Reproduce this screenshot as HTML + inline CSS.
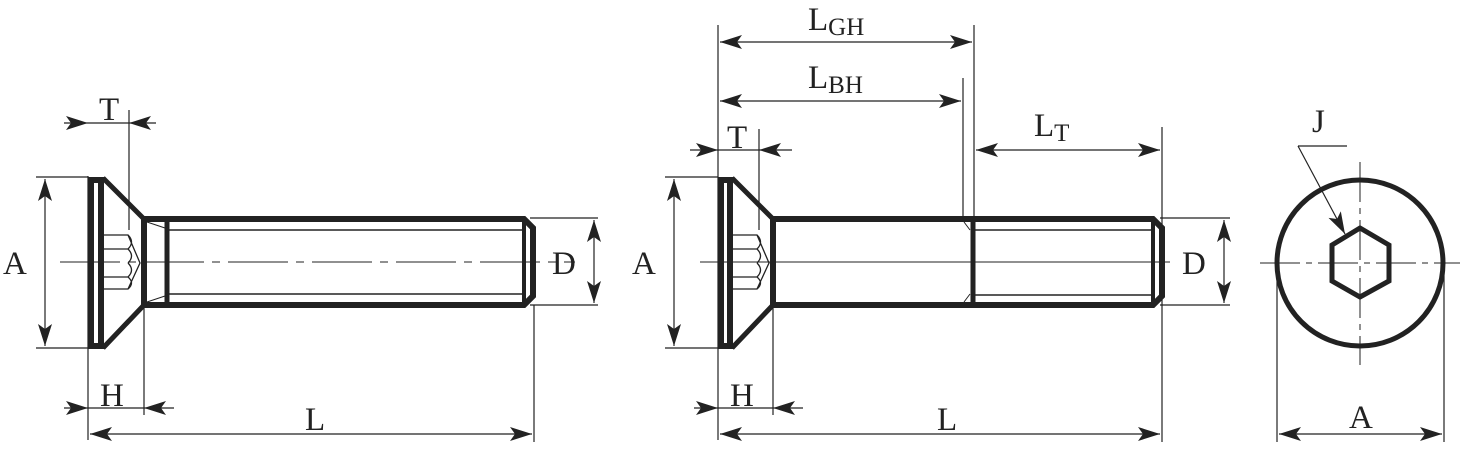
<!DOCTYPE html>
<html><head><meta charset="utf-8"><style>
html,body{margin:0;padding:0;background:#fff;}
svg{display:block;}
text{font-family:"Liberation Serif",serif;fill:#222;}
</style></head><body>
<svg width="1464" height="450" viewBox="0 0 1464 450" xmlns="http://www.w3.org/2000/svg">
<defs>
<marker id="ar" viewBox="0 0 22 14" refX="22" refY="7" markerWidth="22" markerHeight="14" markerUnits="userSpaceOnUse" orient="auto-start-reverse">
<path d="M0,0 L22,7 L0,14 L5,7 Z" fill="#222"/>
</marker>
</defs>
<g stroke="#222" fill="none">
<!-- ===== LEFT VIEW ===== -->
<line x1="60" y1="262" x2="575" y2="262" stroke-width="1" stroke-dasharray="60,8,8,8"/>
<rect x="91" y="180" width="10" height="166" stroke-width="6"/>
<path d="M103,178 L144,219 M103,348 L144,305" stroke-width="5"/>
<path d="M144,219 L524,219 L533,228 L533,296 L524,305 L144,305 Z" stroke-width="6"/>
<line x1="144" y1="219" x2="144" y2="305" stroke-width="5"/>
<line x1="167" y1="219" x2="167" y2="305" stroke-width="5"/>
<line x1="524" y1="219" x2="524" y2="305" stroke-width="4"/>
<line x1="167" y1="230" x2="524" y2="230" stroke-width="1.5"/>
<line x1="167" y1="294" x2="524" y2="294" stroke-width="1.5"/>
<path d="M147,222 L165,228 M147,302 L165,296" stroke-width="1"/>
<!-- socket -->
<path d="M103,235 L128,235 L140,263 L128,289 L103,289 M103,249 L128,249 M103,277 L128,277 M128,235 Q135,242 128,249 Q135,256 128,263 M128,263 Q135,270 128,277 Q135,283 128,289" stroke-width="1.3"/>
<!-- dims left -->
<g stroke-width="1.2">
<line x1="88" y1="176" x2="88" y2="440"/>
<line x1="129" y1="110" x2="129" y2="230"/>
<line x1="144" y1="305" x2="144" y2="415"/>
<line x1="534" y1="305" x2="534" y2="442"/>
<line x1="36" y1="177" x2="88" y2="177"/>
<line x1="36" y1="348" x2="88" y2="348"/>
<line x1="530" y1="218" x2="598" y2="218"/>
<line x1="530" y1="305" x2="598" y2="305"/>
<line x1="45" y1="179" x2="45" y2="346" marker-start="url(#ar)" marker-end="url(#ar)"/>
<line x1="594" y1="220" x2="594" y2="303" marker-start="url(#ar)" marker-end="url(#ar)"/>
<line x1="64" y1="123" x2="88" y2="123" marker-end="url(#ar)"/>
<line x1="88" y1="123" x2="129" y2="123"/>
<line x1="156" y1="123" x2="129" y2="123" marker-end="url(#ar)"/>
<line x1="64" y1="408" x2="88" y2="408" marker-end="url(#ar)"/>
<line x1="88" y1="408" x2="144" y2="408"/>
<line x1="174" y1="408" x2="144" y2="408" marker-end="url(#ar)"/>
<line x1="90" y1="434" x2="532" y2="434" marker-start="url(#ar)" marker-end="url(#ar)"/>
</g>

<!-- ===== MIDDLE VIEW ===== -->
<line x1="700" y1="262" x2="1170" y2="262" stroke-width="1"/>
<rect x="721" y="180" width="9" height="166" stroke-width="6"/>
<path d="M732,178 L773,219 M732,348 L773,305" stroke-width="5"/>
<path d="M773,219 L1153,219 L1162,228 L1162,296 L1153,305 L773,305 Z" stroke-width="6"/>
<line x1="973" y1="219" x2="973" y2="305" stroke-width="5"/>
<line x1="1153" y1="219" x2="1153" y2="305" stroke-width="4"/>
<line x1="973" y1="230" x2="1153" y2="230" stroke-width="1.5"/>
<line x1="973" y1="295" x2="1153" y2="295" stroke-width="1.5"/>
<path d="M964,222 L970,230 M964,302 L970,294" stroke-width="1"/>
<path d="M732,235 L757,235 L769,263 L757,289 L732,289 M732,249 L757,249 M732,277 L757,277 M757,235 Q764,242 757,249 Q764,256 757,263 M757,263 Q764,270 757,277 Q764,283 757,289" stroke-width="1.3"/>
<g stroke-width="1.2">
<line x1="718" y1="25" x2="718" y2="440"/>
<line x1="974" y1="25" x2="974" y2="219"/>
<line x1="963" y1="78" x2="963" y2="219"/>
<line x1="1162" y1="127" x2="1162" y2="442"/>
<line x1="759" y1="129" x2="759" y2="230"/>
<line x1="773" y1="305" x2="773" y2="415"/>
<line x1="665" y1="177" x2="718" y2="177"/>
<line x1="665" y1="348" x2="718" y2="348"/>
<line x1="1160" y1="218" x2="1230" y2="218"/>
<line x1="1160" y1="305" x2="1230" y2="305"/>
<line x1="674" y1="179" x2="674" y2="346" marker-start="url(#ar)" marker-end="url(#ar)"/>
<line x1="1224" y1="220" x2="1224" y2="303" marker-start="url(#ar)" marker-end="url(#ar)"/>
<line x1="720" y1="42" x2="972" y2="42" marker-start="url(#ar)" marker-end="url(#ar)"/>
<line x1="720" y1="101" x2="961" y2="101" marker-start="url(#ar)" marker-end="url(#ar)"/>
<line x1="976" y1="150" x2="1160" y2="150" marker-start="url(#ar)" marker-end="url(#ar)"/>
<line x1="690" y1="150" x2="718" y2="150" marker-end="url(#ar)"/>
<line x1="718" y1="150" x2="759" y2="150"/>
<line x1="792" y1="150" x2="759" y2="150" marker-end="url(#ar)"/>
<line x1="694" y1="408" x2="718" y2="408" marker-end="url(#ar)"/>
<line x1="718" y1="408" x2="773" y2="408"/>
<line x1="803" y1="408" x2="773" y2="408" marker-end="url(#ar)"/>
<line x1="720" y1="434" x2="1160" y2="434" marker-start="url(#ar)" marker-end="url(#ar)"/>
</g>

<!-- ===== RIGHT VIEW ===== -->
<circle cx="1360" cy="263" r="83" stroke-width="5"/>
<polygon points="1360,228 1389,245 1389,281 1360,297 1332,281 1332,245" stroke-width="5"/>
<g stroke-width="1">
<line x1="1260" y1="263" x2="1460" y2="263" stroke-dasharray="40,6,6,6"/>
<line x1="1360" y1="162" x2="1360" y2="365" stroke-dasharray="40,6,6,6"/>
</g>
<g stroke-width="1.2">
<line x1="1298" y1="146" x2="1347" y2="146"/>
<line x1="1298" y1="146" x2="1345" y2="234" marker-end="url(#ar)"/>
<line x1="1277" y1="268" x2="1277" y2="442"/>
<line x1="1444" y1="268" x2="1444" y2="442"/>
<line x1="1279" y1="434" x2="1442" y2="434" marker-start="url(#ar)" marker-end="url(#ar)"/>
</g>
</g>

<g font-size="33">
<text x="99" y="120">T</text>
<text x="100" y="406">H</text>
<text x="305" y="430">L</text>
<text x="3" y="274">A</text>
<text x="552" y="274">D</text>

<text x="727" y="148">T</text>
<text x="730" y="406">H</text>
<text x="937" y="430">L</text>
<text x="632" y="274">A</text>
<text x="1182" y="274">D</text>
<text x="808" y="30">L<tspan font-size="25" dy="5">GH</tspan></text>
<text x="808" y="88">L<tspan font-size="25" dy="5">BH</tspan></text>
<text x="1034" y="136">L<tspan font-size="25" dy="5">T</tspan></text>

<text x="1312" y="132">J</text>
<text x="1349" y="428">A</text>
</g>
</svg>
</body></html>
